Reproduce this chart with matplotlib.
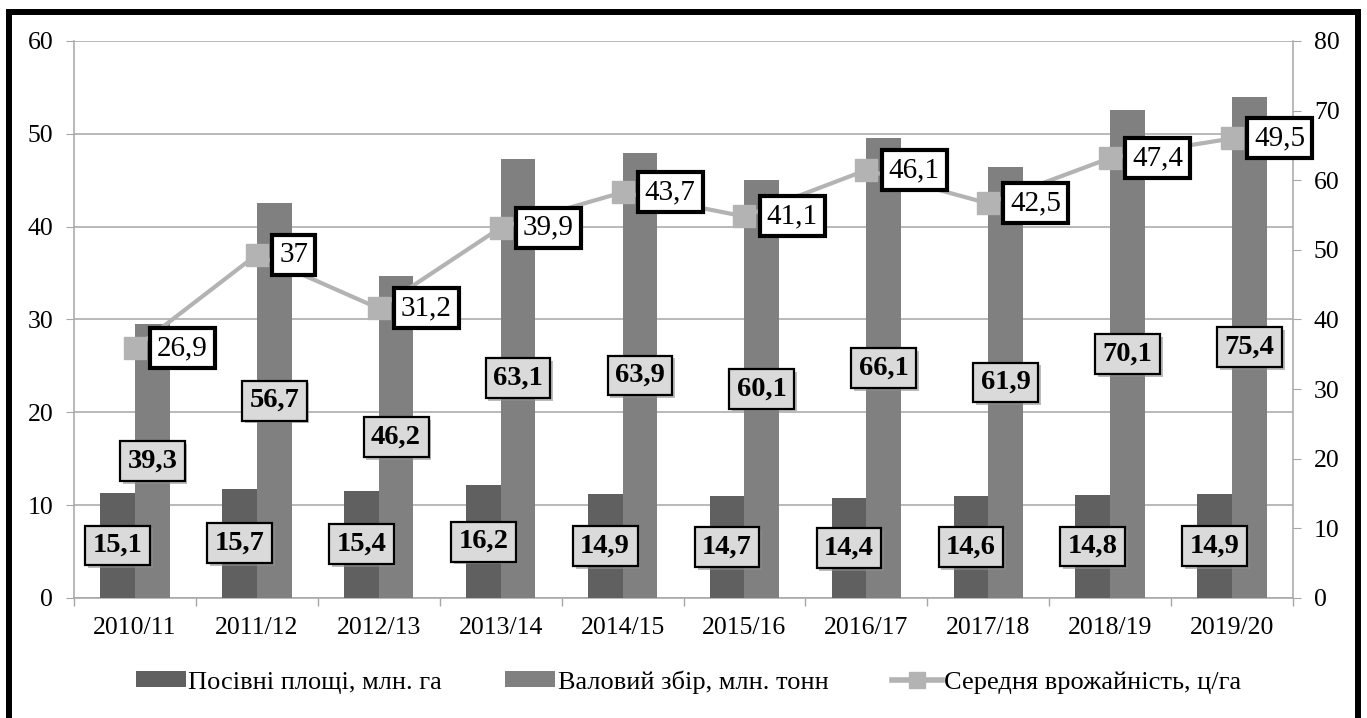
import matplotlib
matplotlib.use('Agg')
import matplotlib.pyplot as plt
import numpy as np
from matplotlib import patheffects as pe
from matplotlib.lines import Line2D
from matplotlib.patches import Patch

plt.rcParams['font.family'] = ['Liberation Serif', 'DejaVu Serif']

# ---- data ----
seasons = ['2010/11', '2011/12', '2012/13', '2013/14', '2014/15',
           '2015/16', '2016/17', '2017/18', '2018/19', '2019/20']
sown_area = [15.1, 15.7, 15.4, 16.2, 14.9, 14.7, 14.4, 14.6, 14.8, 14.9]
# bar heights as drawn in the source (last bar is drawn at ~72 though labelled 75,4)
gross_harvest = [39.3, 56.7, 46.2, 63.1, 63.9, 60.1, 66.1, 61.9, 70.1, 72.0]
gross_harvest_labels = ['39,3', '56,7', '46,2', '63,1', '63,9',
                        '60,1', '66,1', '61,9', '70,1', '75,4']
avg_yield = [26.9, 37.0, 31.2, 39.9, 43.7, 41.1, 46.1, 42.5, 47.4, 49.5]

series_names = ['Посівні площі, млн. га', 'Валовий збір, млн. тонн',
                'Середня врожайність, ц/га']
left_ticks = [0, 10, 20, 30, 40, 50, 60]
right_ticks = [0, 10, 20, 30, 40, 50, 60, 70, 80]

def fmt(v):
    return f"{v:g}".replace('.', ',')

W, H = 1367, 718
fig = plt.figure(figsize=(W / 100, H / 100), dpi=100)
L, R, T, B = 74, 1293, 41, 598
ax = fig.add_axes([L / W, 1 - B / H, (R - L) / W, (B - T) / H])
ax_bar = ax.twinx()
ax_line = ax.twinx()

grey_axis = '#a6a6a6'
c_dark = '#606060'
c_mid = '#808080'
c_line = '#b3b3b3'

n = len(seasons)
x = np.arange(n)

# base axis: grid + left ticks
ax.set_xlim(-0.5, n - 0.5)
ax.set_ylim(0, 60)
ax.set_yticks(left_ticks)
ax.yaxis.grid(True, color=grey_axis, lw=1.1)
ax.set_axisbelow(True)
ax.tick_params(axis='y', length=6, color=grey_axis, labelsize=18.5, pad=9)
ax.set_xticks(x)
ax.set_xticklabels(seasons)
ax.tick_params(axis='x', which='major', length=0, labelsize=18.5, pad=14)
ax.set_xticks(np.arange(-0.5, n, 1), minor=True)
ax.tick_params(axis='x', which='minor', length=6, color=grey_axis, width=1)
for s in ['top', 'right']:
    ax.spines[s].set_visible(False)
for s in ['left', 'bottom']:
    ax.spines[s].set_color(grey_axis)
    ax.spines[s].set_linewidth(1.1)

# bars on right axis
w = 0.285
ax_bar.set_ylim(0, 80)
ax_bar.set_yticks(right_ticks)
ax_bar.tick_params(axis='y', length=6, color=grey_axis, labelsize=18.5, pad=9)
for s in ['top', 'left', 'bottom']:
    ax_bar.spines[s].set_visible(False)
ax_bar.spines['right'].set_color(grey_axis)
ax_bar.spines['right'].set_linewidth(1.1)
ax_bar.bar(x - w / 2, sown_area, w, color=c_dark, zorder=2)
ax_bar.bar(x + w / 2, gross_harvest, w, color=c_mid, zorder=2)

shadow = [pe.SimplePatchShadow(offset=(2, -2), shadow_rgbFace='#909090', alpha=0.6), pe.Normal()]
bar_box = dict(boxstyle='square,pad=0.26', fc='#dadada', ec='black', lw=1.6)
for xi, v in zip(x, sown_area):
    t = ax_bar.text(xi - w / 2, v / 2, fmt(v), ha='center', va='center', fontsize=20.5,
                    fontweight='bold', zorder=5, bbox=bar_box)
    t.get_bbox_patch().set_path_effects(shadow)
for xi, v, lbl in zip(x, gross_harvest, gross_harvest_labels):
    t = ax_bar.text(xi + w / 2, v / 2, lbl, ha='center', va='center', fontsize=20.5,
                    fontweight='bold', zorder=5, bbox=bar_box)
    t.get_bbox_patch().set_path_effects(shadow)

# line on left scale
ax_line.set_ylim(0, 60)
ax_line.yaxis.set_visible(False)
for s in ax_line.spines.values():
    s.set_visible(False)
ax_line.plot(x, avg_yield, color=c_line, lw=3, marker='s', ms=16,
             mfc=c_line, mec=c_line, zorder=3)
for xi, v in zip(x, avg_yield):
    ax_line.annotate(fmt(v), (xi, v), xytext=(16, 0), textcoords='offset points',
                     ha='left', va='center', fontsize=21, zorder=6,
                     bbox=dict(boxstyle='square,pad=0.24', fc='white', ec='black', lw=3))

# legend
handles = [Patch(fc=c_dark, ec='none'), Patch(fc=c_mid, ec='none'),
           Line2D([], [], color=c_line, lw=4, marker='s', ms=12, mfc=c_line, mec=c_line)]
fig.legend(handles, series_names, loc='center', bbox_to_anchor=(688.5 / W, 1 - 682 / H),
           ncol=3, frameon=False, fontsize=19, handlelength=1.9, handletextpad=0.08,
           columnspacing=2.4, handleheight=0.55)

# outer frame (bottom edge runs off the image)
fig.add_artist(Line2D([9 / W, 9 / W, 1358 / W, 1358 / W], [-0.05, 1 - 12 / H, 1 - 12 / H, -0.05],
                      transform=fig.transFigure, color='black', lw=4.3,
                      solid_joinstyle='miter'))

fig.savefig('out.png', dpi=100)
